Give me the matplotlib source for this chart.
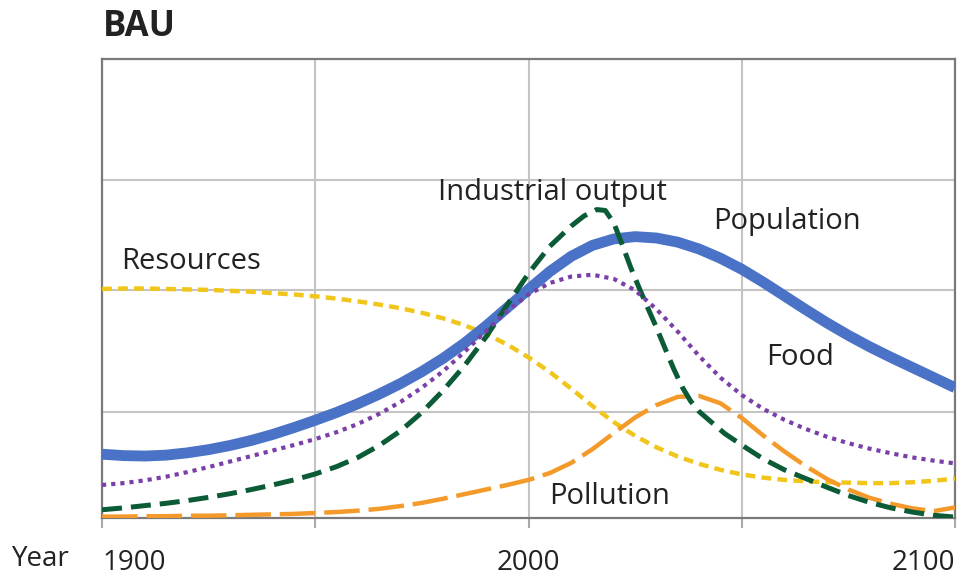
import matplotlib.pyplot as plt

plt.rcParams['font.family'] = ['Open Sans', 'DejaVu Sans']

# 数据（从图中读取，纵轴为相对量 0-100）
YEARS = [1900, 1905, 1910, 1915, 1920, 1925, 1930, 1935, 1940, 1945,
         1950, 1955, 1960, 1965, 1970, 1975, 1980, 1985, 1990, 1995,
         2000, 2005, 2010, 2015, 2020, 2025, 2030, 2035, 2040, 2045,
         2050, 2055, 2060, 2065, 2070, 2075, 2080, 2085, 2090, 2095, 2100]

population = [13.9, 13.6, 13.5, 13.7, 14.2, 14.9, 15.8, 16.9, 18.2, 19.7,
              21.3, 23.0, 24.9, 27.0, 29.3, 31.9, 34.8, 38.1, 41.8, 45.8,
              49.8, 53.7, 57.0, 59.4, 60.8, 61.3, 61.0, 60.1, 58.6, 56.6,
              54.2, 51.4, 48.4, 45.4, 42.5, 39.8, 37.3, 35.0, 32.8, 30.6, 28.4]

food = [7.2, 7.6, 8.2, 9.0, 10.0, 11.1, 12.3, 13.5, 14.7, 15.9,
        17.2, 18.7, 20.5, 22.7, 25.3, 28.4, 32.0, 36.2, 40.7, 45.1,
        48.7, 51.2, 52.6, 53.0, 52.1, 49.6, 45.5, 40.6, 35.3, 30.6,
        26.8, 23.8, 21.4, 19.4, 17.7, 16.3, 15.1, 14.1, 13.2, 12.5, 11.9]

resources = [49.9, 50.0, 50.0, 49.9, 49.8, 49.7, 49.5, 49.3, 49.0, 48.7,
             48.3, 47.8, 47.2, 46.5, 45.7, 44.7, 43.5, 42.0, 40.1, 37.8,
             35.0, 31.8, 28.2, 24.4, 20.9, 17.9, 15.4, 13.4, 11.8, 10.5,
             9.5, 8.8, 8.3, 8.0, 7.8, 7.7, 7.6, 7.6, 7.8, 8.1, 8.6]

pollution = [0.3, 0.3, 0.4, 0.4, 0.5, 0.5, 0.6, 0.7, 0.8, 0.9,
             1.1, 1.3, 1.6, 2.0, 2.6, 3.3, 4.2, 5.2, 6.2, 7.2,
             8.3, 9.8, 12.0, 15.0, 18.5, 21.9, 24.6, 26.4, 26.6, 25.0,
             21.8, 18.0, 14.5, 11.3, 8.5, 6.2, 4.4, 3.1, 2.1, 1.5, 2.3]

IND_YEARS = [1900, 1905, 1910, 1915, 1920, 1925, 1930, 1935, 1940, 1945,
             1950, 1955, 1960, 1965, 1970, 1975, 1980, 1985, 1990, 1995,
             2000, 2005, 2010, 2013, 2016, 2018, 2020, 2022, 2024, 2026,
             2028, 2030, 2032, 2034, 2036, 2038, 2040, 2043, 2046, 2050,
             2055, 2060, 2065, 2070, 2075, 2080, 2085, 2090, 2095, 2100]
industrial = [1.8, 2.2, 2.7, 3.2, 3.8, 4.5, 5.3, 6.2, 7.2, 8.3,
              9.6, 11.2, 13.2, 15.8, 19.0, 23.0, 27.8, 33.2, 39.4, 46.4,
              53.3, 59.2, 63.6, 65.8, 67.2, 67.0, 64.3, 59.5, 54.5, 50.0,
              45.7, 41.5, 37.0, 32.6, 28.6, 25.5, 23.2, 20.8, 18.4, 15.9,
              12.9, 10.5, 8.6, 6.7, 4.9, 3.4, 2.2, 1.3, 0.6, 0.2]

GRID_Y = [23.1, 49.7, 73.6]
X_TICKS = [1900, 1950, 2000, 2050, 2100]
X_LABELS = ["1900", "", "2000", "", "2100"]

fig = plt.figure(figsize=(9.7, 5.75), dpi=100)
ax = fig.add_axes([0.1052, 0.0991, 0.8793, 0.7983])

ax.plot(YEARS, resources, color="#f0c61c", lw=3.2, dashes=(2.2, 1.4), zorder=3)
ax.plot(YEARS, pollution, color="#f39a2b", lw=3.2, dashes=(8, 2), zorder=3)
ax.plot(IND_YEARS, industrial, color="#0b5c36", lw=3.6, dashes=(4, 1.8), zorder=4)
ax.plot(YEARS, food, color="#7a3fa8", lw=3.0, dashes=(1, 1.2), zorder=4)
ax.plot(YEARS, population, color="#4a72c6", lw=7.8, solid_capstyle="butt",
        solid_joinstyle="round", zorder=3)

ax.set_xlim(1900, 2100)
ax.set_ylim(0, 100)
ax.set_xticks(X_TICKS)
ax.set_xticklabels(X_LABELS, fontsize=20, color="#222222")
for lab, ha in zip(ax.get_xticklabels(), ["left", "center", "center", "center", "right"]):
    lab.set_ha(ha)
ax.set_yticks(GRID_Y)
ax.set_yticklabels([])
ax.tick_params(axis="x", length=7, width=1.5, color="#aaaaaa", pad=15)
ax.tick_params(axis="y", length=0)
ax.grid(True, color="#c4c4c4", lw=1.5, zorder=0)
ax.set_axisbelow(True)
for s in ax.spines.values():
    s.set_color("#7a7a7a")
    s.set_linewidth(1.6)

# 曲线标注
lbl = dict(fontsize=21, color="#222222", ha="center", va="center")
ax.text(2005.5, 71, "Industrial output", **lbl)
ax.text(2060.6, 64.5, "Population", **lbl)
ax.text(1920.9, 55.8, "Resources", **lbl)
ax.text(2063.7, 34.9, "Food", **lbl)
ax.text(2019.1, 4.6, "Pollution", **lbl)

fig.text(0.106, 0.953, "BAU", fontsize=25, fontweight="bold", color="#222222", va="center")
fig.text(0.012, 0.027, "Year", fontsize=20, color="#222222", va="center")

fig.savefig("out.png", dpi=100)
